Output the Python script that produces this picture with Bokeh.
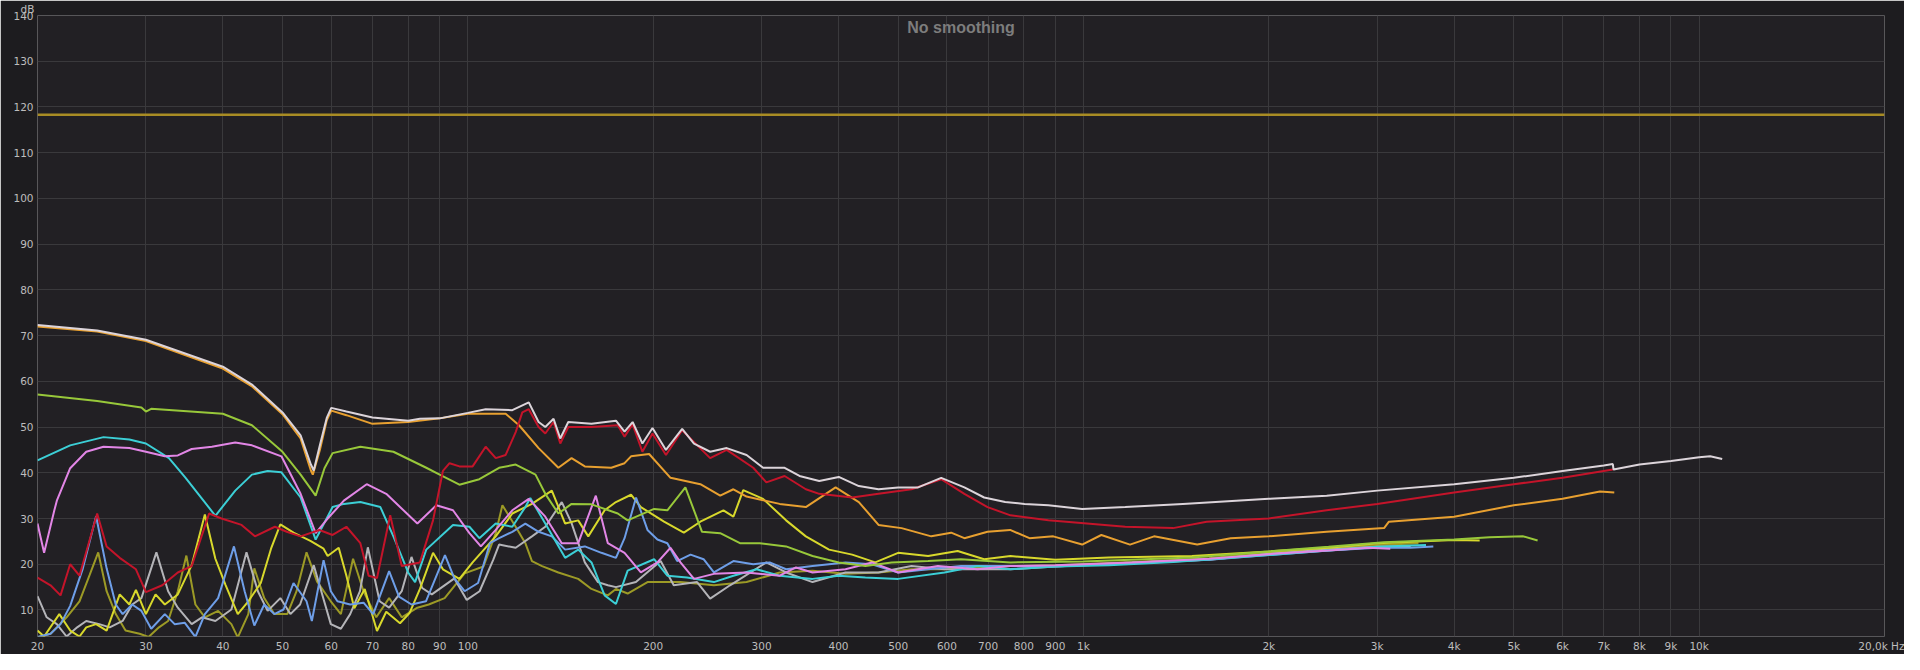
from bokeh.plotting import figure
from bokeh.models import FixedTicker, Label, Range1d
from bokeh.embed import file_html
from bokeh.resources import INLINE

# ---------------- data (frequency Hz, level dB) ----------------
hline_pts = [(20, 118.3), (20000, 118.3)]

white_pts = [(20, 72.3), (25, 71.1), (30, 69.1), (40, 63.2), (44.6, 59.3), (50, 53.2), (53.5, 48.2),
             (55.6, 41.8), (56.2, 40.5), (57.5, 46.0), (59, 52.0), (60, 54.2), (63.5, 53.4), (70, 52.1),
             (80, 51.4), (83.6, 51.8), (90, 51.9), (100, 53.1), (106.9, 53.9), (118.1, 53.7), (125.6, 55.4),
             (130.3, 51.1), (133.6, 50.0), (137.8, 51.8), (141.3, 47.5), (145.6, 51.1), (158.8, 50.7),
             (174, 51.4), (179.7, 49.0), (185.2, 51.1), (192.1, 46.4), (199.5, 49.8), (209.8, 45.0),
             (222.9, 49.6), (233, 46.4), (247.5, 44.6), (263.3, 45.4), (283.6, 43.9), (301.7, 41.1),
             (327, 41.1), (345.7, 39.3), (372.2, 38.2), (400.4, 39.1), (431.6, 37.1), (464.6, 36.4),
             (500, 36.8), (538.7, 36.8), (587.3, 38.9), (640.5, 36.8), (689.7, 34.6), (746, 33.6),
             (802, 33.2), (877, 32.9), (995, 32.1), (1169, 32.5), (1450, 33.2), (2000, 34.3), (2483, 35.0),
             (3000, 36.1), (4000, 37.5), (5000, 38.9), (6000, 40.4), (7000, 41.6), (7240, 41.9),
             (7260, 40.7), (8000, 41.8), (9000, 42.6), (10000, 43.4), (10420, 43.6), (10900, 43.0)]

red_pts = [(20, 17.1), (21.0, 15.4), (21.8, 13.2), (22.6, 20.0), (23.4, 17.5), (25.0, 31.1), (25.9, 23.9),
           (27.2, 21.4), (28.9, 18.9), (30.0, 13.9), (31.9, 15.4), (33.8, 18.2), (35.6, 19.6), (38.0, 31.1),
           (39.8, 30.0), (42.9, 28.6), (45.1, 26.1), (48.6, 28.2), (50.8, 27.1), (53.5, 26.1), (57.4, 27.5),
           (60.3, 26.4), (63.5, 28.2), (66.9, 24.6), (69.0, 17.5), (71.2, 17.0), (74.8, 30.7), (78.1, 19.6),
           (83.6, 20.4), (87.8, 29.6), (91.1, 40.4), (93.4, 42.1), (96.9, 41.4), (101.8, 41.4),
           (106.9, 45.7), (111, 43.2), (115.2, 43.9), (119.6, 48.9), (122.6, 53.2), (125.6, 53.9),
           (130.3, 50.0), (133.6, 48.6), (137.8, 51.1), (141.3, 46.4), (145.6, 50.0), (158.8, 50.0),
           (175.2, 50.4), (179.7, 47.9), (185.2, 50.6), (192.1, 44.6), (199.5, 48.6), (209.8, 43.9),
           (222.9, 49.3), (247.5, 43.2), (263.3, 45.0), (290.8, 41.1), (305.4, 37.9), (327, 39.3),
           (354, 36.4), (372.2, 35.4), (421, 34.6), (464.6, 35.4), (525.6, 36.4), (587.3, 38.6),
           (640.5, 35.4), (698.4, 32.5), (761, 30.7), (877, 29.6), (1013, 28.9), (1169, 28.2),
           (1398, 27.9), (1585, 29.3), (2000, 30.0), (2483, 31.8), (3000, 33.2), (4000, 35.7),
           (5000, 37.5), (6000, 38.9), (7240, 40.7)]

orange_pts = [(20, 72.0), (25, 70.9), (30, 68.8), (40, 62.8), (44.6, 58.9), (50, 52.8), (53.5, 47.5),
              (55.6, 40.5), (56.0, 39.6), (57.5, 45.0), (59, 51.5), (60, 53.6), (63.5, 52.6), (70, 50.7),
              (80, 51.1), (90, 51.9), (100, 52.9), (115.2, 52.9), (121.1, 50.4), (130.3, 45.4),
              (140.3, 41.1), (147.4, 43.2), (154.9, 41.4), (171, 41.1), (179.7, 42.1), (184.1, 43.6),
              (197, 44.1), (213.4, 38.9), (238.6, 37.5), (257, 35.0), (270, 36.4), (283.6, 34.8),
              (321, 33.2), (354, 32.5), (395.7, 36.8), (431.6, 33.6), (464.6, 28.6), (506.5, 27.9),
              (566, 26.1), (609.6, 26.9), (640.5, 25.7), (698.4, 27.1), (760, 27.5), (817, 25.7),
              (893, 26.1), (995, 24.3), (1069, 26.4), (1190, 24.3), (1302, 26.1), (1530, 24.3),
              (1734, 25.7), (2000, 26.1), (2483, 27.1), (3078, 27.9), (3134, 29.3), (4000, 30.4),
              (5000, 32.9), (6000, 34.3), (6900, 35.9), (7280, 35.7)]

lime_pts = [(20, 57.1), (25, 55.7), (29.5, 54.3), (30, 53.4), (30.6, 54.0), (40, 52.9), (44.6, 50.4),
            (50, 44.6), (53.5, 39.6), (56.6, 35.0), (58.5, 41.0), (60.3, 44.3), (66.9, 45.7), (75.7, 44.6),
            (85.6, 41.1), (90, 39.6), (96.9, 37.4), (104.4, 38.6), (112.4, 41.1), (119.6, 41.8),
            (128.8, 39.6), (133.6, 35.4), (140.3, 31.1), (147.4, 33.2), (158.8, 33.1), (175.2, 31.1),
            (181.8, 29.6), (200.7, 32.1), (210.9, 31.8), (225.6, 36.8), (240.1, 27.1), (257, 26.8),
            (276.7, 24.6), (297.9, 24.6), (328.8, 23.9), (363, 21.8), (400.4, 20.4), (442.3, 19.6),
            (488, 20.4), (559.3, 20.7), (632.5, 21.1), (761, 20.4), (1000, 20.6), (1500, 21.5),
            (2000, 22.8), (2500, 23.8), (3078, 24.8), (4000, 25.4), (4567, 25.9), (5180, 26.1),
            (5465, 25.2)]

cyan_pts = [(20, 42.7), (22.6, 46.0), (25.6, 47.8), (28.2, 47.3), (30, 46.4), (32.7, 43.2), (34.8, 38.9),
            (38.9, 30.6), (41.9, 36.1), (44.6, 39.6), (47.3, 40.4), (49.8, 40.1), (53.5, 34.6),
            (56.6, 25.4), (60.3, 32.5), (62.9, 33.2), (66.9, 33.6), (72.1, 32.5), (75.7, 26.1),
            (80, 18.2), (82.1, 16.1), (85.6, 23.2), (94.6, 28.6), (100.6, 28.2), (104.4, 25.7),
            (111, 28.9), (118.1, 28.2), (124, 32.5), (126.3, 34.5), (133.6, 28.9), (143.9, 21.4),
            (151.1, 23.2), (158.8, 20.4), (166.8, 13.2), (174, 11.3), (181.8, 18.6), (200.7, 21.1),
            (210.9, 17.5), (227, 17.1), (251, 16.1), (270, 17.5), (294.4, 18.9), (321, 17.5),
            (363, 16.8), (400.4, 17.5), (442.3, 17.1), (500, 16.8), (594.6, 18.2), (672.9, 19.6),
            (761, 18.9), (900, 19.5), (1100, 19.8), (1400, 20.5), (2000, 22.0), (2500, 23.0),
            (3000, 23.8), (3600, 24.2)]

pink_pts = [(20, 28.9), (20.5, 22.5), (21.3, 31.8), (21.5, 33.9), (22.6, 41.0), (24.0, 44.6), (25.6, 45.7),
            (28.2, 45.4), (30, 44.6), (32.2, 43.6), (33.8, 43.8), (35.6, 45.2), (38.4, 45.7), (41.9, 46.6),
            (44.6, 46.0), (49.8, 43.6), (53.5, 35.4), (56.6, 26.8), (59.2, 30.0), (62.9, 33.9),
            (68.5, 37.5), (73.7, 35.4), (82.8, 28.9), (88.9, 32.9), (94.6, 31.8), (100.6, 26.8),
            (105, 23.9), (111, 27.5), (118.1, 31.8), (125.6, 34.3), (133.6, 30.4), (142.1, 24.6),
            (151.1, 24.6), (161.4, 35.0), (168.8, 24.6), (179.7, 22.5), (191, 18.2), (203.2, 20.4),
            (213.4, 23.6), (221.5, 20.4), (233, 16.8), (251, 17.9), (283.6, 18.2), (321, 17.5),
            (341.2, 19.3), (363, 18.2), (410.6, 18.9), (453.2, 20.4), (500, 18.2), (580, 19.6),
            (672.9, 18.9), (761, 19.6), (900, 19.8), (1200, 20.4), (1600, 21.2), (2000, 22.2),
            (2500, 23.0), (2900, 23.6), (3150, 23.4)]

blue_pts = [(20, 4.1), (21.0, 4.8), (21.8, 6.9), (22.6, 10.9), (23.7, 19.1), (24.9, 30.5), (25.9, 19.1),
            (26.8, 11.2), (27.5, 9.1), (28.5, 11.2), (29.5, 9.8), (30.6, 5.9), (32.2, 9.1), (33.4, 6.9),
            (34.7, 7.2), (36.1, 4.1), (37.4, 9.1), (39.3, 12.6), (41.7, 23.9), (43.4, 14.1), (45.0, 6.6),
            (46.7, 11.2), (48.5, 9.1), (50.2, 10.1), (52.1, 15.9), (54.7, 11.9), (55.8, 7.6), (58.3, 20.9),
            (59.9, 14.1), (61.4, 11.9), (64.4, 11.2), (67.7, 11.6), (70.2, 9.1), (74.5, 18.5), (77.3, 12.9),
            (81.0, 11.2), (85.5, 11.9), (91.8, 22.0), (95.1, 16.9), (98.8, 14.1), (103.9, 15.9),
            (108.6, 24.6), (112.4, 25.7), (118.1, 27.1), (124, 28.9), (130.3, 27.1), (136.9, 26.1),
            (143.9, 23.2), (154.9, 23.9), (164.8, 22.5), (174, 21.4), (179.7, 25.7), (187.6, 34.6),
            (195.8, 27.5), (203.2, 25.4), (210.9, 24.6), (218.8, 20.7), (230, 22.1), (241.5, 21.1),
            (251, 18.2), (270, 20.7), (290.8, 20.0), (309.2, 20.4), (328.8, 18.9), (363, 19.6),
            (410.6, 20.4), (453.2, 20.0), (500, 18.2), (559.3, 18.9), (632.5, 19.6), (761, 19.6),
            (900, 19.5), (1200, 20.2), (1600, 21.0), (2000, 22.0), (2500, 23.0), (3000, 23.6),
            (3400, 23.6), (3700, 23.9)]

gray_pts = [(20, 13.0), (20.7, 8.4), (21.5, 6.9), (22.3, 4.2), (23.2, 6.2), (24.0, 7.6), (25.2, 6.9),
            (26.2, 6.2), (27.5, 7.6), (28.5, 11.2), (29.5, 12.6), (31.2, 22.6), (32.6, 14.1), (33.8, 10.5),
            (35.6, 6.9), (37.0, 8.4), (38.9, 7.6), (41.3, 10.1), (43.7, 22.6), (45.6, 14.1), (47.3, 9.8),
            (49.6, 12.6), (51.5, 9.1), (53.4, 11.2), (56.2, 19.8), (57.6, 14.8), (59.9, 6.9), (62.2, 5.9),
            (64.4, 9.1), (66.8, 14.1), (68.8, 23.7), (71.9, 11.9), (74.5, 10.5), (78.1, 14.1), (81.0, 21.6),
            (84.3, 14.8), (87.4, 13.4), (95.1, 16.9), (99.6, 12.2), (104.5, 14.1), (110, 21.0),
            (112.4, 24.3), (119.6, 23.6), (127.1, 26.1), (133.6, 28.2), (142.1, 33.6), (147.4, 29.0),
            (154.9, 20.4), (162.7, 16.1), (168.8, 15.4), (174, 15.0), (187.5, 16.1), (205.7, 20.7),
            (216, 15.4), (235.7, 16.1), (247.5, 12.5), (266.6, 15.4), (305.4, 20.4), (328.8, 18.2),
            (363, 16.1), (410.6, 18.2), (464.6, 18.2), (525.6, 19.6), (594.6, 18.9), (761, 18.9),
            (900, 19.5), (1200, 20.4), (1600, 21.0), (2000, 22.3), (2500, 23.2), (3000, 23.8),
            (3400, 24.0)]

yellow_pts = [(20, 5.5), (20.5, 4.2), (21.7, 9.1), (22.6, 5.5), (23.4, 4.2), (24.0, 6.2), (24.9, 6.9),
              (25.9, 5.5), (27.2, 13.4), (28.2, 11.2), (28.9, 14.4), (30.0, 9.1), (31.1, 13.4), (32.2, 11.2),
              (33.8, 13.4), (35.6, 19.8), (37.4, 30.9), (38.9, 21.2), (40.4, 15.5), (42.3, 9.1), (44.0, 11.9),
              (46.1, 15.9), (47.9, 23.4), (49.6, 28.7), (52.1, 26.9), (55.5, 25.1), (58.3, 23.4),
              (59.2, 21.8), (61.7, 23.6), (63.5, 17.5), (65.4, 10.4), (68, 14.6), (71.2, 5.4), (73.7, 9.6),
              (77.6, 7.1), (80.4, 9.3), (83.6, 14.6), (87.8, 22.5), (91.1, 18.9), (96.9, 16.8),
              (101.8, 20.4), (111, 26.1), (118.1, 31.1), (127.1, 33.2), (136.9, 36.1), (143.9, 28.9),
              (151.1, 29.6), (156.9, 26.1), (166.8, 31.8), (174, 33.6), (184.1, 35.2), (191, 32.5),
              (208.3, 29.3), (224.3, 26.9), (238.6, 29.3), (260.1, 31.8), (270, 30.4), (280.1, 36.2),
              (301.7, 34.3), (328.8, 29.6), (354, 26.1), (386.1, 23.2), (421, 22.1), (458.9, 20.4),
              (500, 22.5), (559.3, 21.8), (624.6, 22.9), (689.7, 21.1), (761, 21.8), (900, 21.0),
              (1100, 21.5), (1500, 21.8), (2000, 22.8), (2500, 23.6), (3000, 24.6), (3500, 25.0),
              (4000, 25.3), (4400, 25.2)]

olive_pts = [(20, 4.0), (21.0, 4.8), (22.3, 8.4), (23.4, 11.9), (24.3, 17.6), (25.1, 22.6), (25.9, 14.1),
             (26.8, 9.1), (27.8, 5.5), (29.3, 4.8), (30.3, 4.1), (31.5, 6.2), (32.6, 7.6), (33.8, 14.1),
             (34.9, 21.9), (36.1, 11.2), (37.4, 8.4), (39.3, 9.8), (41.3, 6.9), (42.3, 4.0), (44.0, 9.1),
             (45.0, 19.1), (46.7, 12.6), (48.5, 9.1), (50.9, 9.1), (52.7, 14.1), (54.7, 22.6), (56.9, 16.2),
             (59.9, 11.9), (62.2, 9.1), (65.1, 21.2), (67.7, 14.1), (71.0, 8.4), (74.5, 12.6), (78.1, 8.4),
             (82.8, 10.5), (86.4, 11.2), (91.7, 12.6), (98.8, 18.0), (106, 19.5), (111, 26.8),
             (113.8, 32.9), (119.6, 28.2), (124, 24.6), (127.1, 20.7), (132, 19.6), (140.3, 18.2),
             (151.1, 16.8), (158.8, 14.6), (168.8, 13.2), (174, 14.6), (181.8, 13.6), (195.8, 16.1),
             (221.5, 16.1), (251, 15.4), (283.6, 16.1), (321, 18.2), (363, 18.6), (410.6, 17.9),
             (464.6, 18.2), (525.6, 18.9), (594.6, 18.9), (761, 19.6), (900, 19.8), (1200, 20.5),
             (1600, 21.3), (2000, 22.6), (2500, 23.4), (3000, 24.2), (3500, 24.6)]

x_ticks = [20, 30, 40, 50, 60, 70, 80, 90, 100, 200, 300, 400, 500, 600, 700, 800, 900,
           1000, 2000, 3000, 4000, 5000, 6000, 7000, 8000, 9000, 10000, 20000]
x_labels = ["20", "30", "40", "50", "60", "70", "80", "90", "100", "200", "300", "400", "500",
            "600", "700", "800", "900", "1k", "2k", "3k", "4k", "5k", "6k", "7k", "8k", "9k", "10k",
            "20,0k Hz"]
y_ticks = [10, 20, 30, 40, 50, 60, 70, 80, 90, 100, 110, 120, 130, 140]

series = [
    (olive_pts, "#9c9a26"),
    (gray_pts, "#b4b4b8"),
    (yellow_pts, "#d8d82c"),
    (blue_pts, "#6e9ee8"),
    (cyan_pts, "#3ccfd6"),
    (pink_pts, "#e286e6"),
    (lime_pts, "#98c83a"),
    (orange_pts, "#e8a030"),
    (red_pts, "#c4142a"),
    (white_pts, "#dcd4da"),
]

# ---------------- figure ----------------
p = figure(width=1904, height=654, x_axis_type="log",
           x_range=Range1d(20, 20000), y_range=Range1d(4.2, 140),
           output_backend="svg", toolbar_location=None,
           min_border_left=37, min_border_right=20, min_border_top=14, min_border_bottom=14)
p.background_fill_color = "#222024"
p.border_fill_color = "#1d1c1f"
p.outline_line_color = None

# small "dB" unit caption above the y axis, drawn as the plot title
p.title.text = "dB"
p.title.align = "left"
p.title.offset = -17
p.title.standoff = 1
p.title.text_font = "DejaVu Sans"
p.title.text_font_size = "10.5px"
p.title.text_font_style = "normal"
p.title.text_color = "#bdbdbd"

p.xaxis.ticker = FixedTicker(ticks=x_ticks)
p.xaxis.major_label_overrides = {t: l for t, l in zip(x_ticks, x_labels)}
p.yaxis.ticker = FixedTicker(ticks=y_ticks)
for ax in (p.xaxis, p.yaxis):
    ax.axis_line_color = None
    ax.major_tick_line_color = None
    ax.minor_tick_line_color = None
    ax.major_tick_out = 0
    ax.major_tick_in = 0
    ax.major_label_text_color = "#bdbdbd"
    ax.major_label_text_font = "DejaVu Sans"
    ax.major_label_text_font_size = "10.5px"
    ax.major_label_standoff = 4
p.xaxis.major_label_standoff = 3
p.grid.grid_line_color = "#3a393c"
p.grid.grid_line_width = 1

def xs(pts):
    return [a for a, b in pts]

def ys(pts):
    return [b for a, b in pts]

p.line(xs(hline_pts), ys(hline_pts), line_color="#a88c24", line_width=2.6)
for pts, col in series:
    p.line(xs(pts), ys(pts), line_color=col, line_width=2.0)

p.add_layout(Label(x=632.46, y=140, text="No smoothing", text_align="center", text_baseline="top",
                   y_offset=-3, text_font="Liberation Sans", text_font_size="16px",
                   text_font_style="bold", text_color="#7d7d7d"))

open("out.html", "w").write(file_html(p, INLINE))
